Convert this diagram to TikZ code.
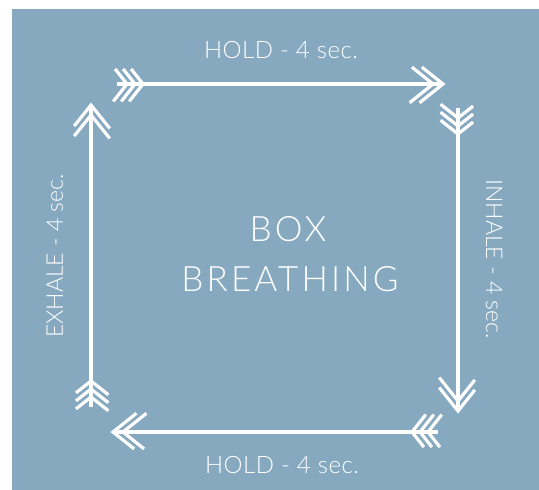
\documentclass[tikz,border=0pt]{standalone}
\usepackage{fontspec}
\setmainfont{Lato Light}
\newfontfamily\titlefont[LetterSpace=9]{Lato Light}
\newfontfamily\lblfont[LetterSpace=2]{Lato Light}
\usetikzlibrary{decorations.markings}
\definecolor{bgblue}{RGB}{134,169,192}
\tikzset{
  boxarrow/.style={draw=white, line width=3.4pt, line join=miter,
    shorten <=5pt, shorten >=2pt,
    postaction={decorate, decoration={markings,
      mark=at position 0 with {
        \foreach \a in {0,8,16}
          \draw[white, line width=3.2pt, line join=miter] (\a,-19) -- (\a+15,0) -- (\a,19);
      },
      mark=at position 1 with {
        \foreach \a in {0,-10}
          \draw[white, line width=3.2pt, line join=miter] (\a-25,-20) -- (\a,0) -- (\a-25,20);
      }}}},
  lbl/.style={text=white, font=\lblfont\fontsize{24}{28}\selectfont, inner sep=0pt},
  sidelbl/.style={text=white, font=\fontsize{23}{27}\selectfont, inner sep=0pt},
  title/.style={text=white, font=\titlefont\fontsize{35}{40}\selectfont, inner sep=0pt}
}
\begin{document}
\begin{tikzpicture}[x=1pt,y=-1pt]
\useasboundingbox (0,0) rectangle (539,490);
\fill[white] (0,0) rectangle (539,490);
\fill[bgblue] (12,9) rectangle (539,490);
% corner coordinates
\coordinate (topT) at (112,84);
\coordinate (topH) at (443,84);
\coordinate (rgtT) at (458,103);
\coordinate (rgtH) at (458,411);
\coordinate (botT) at (443,432);
\coordinate (botH) at (113,432);
\coordinate (lftT) at (91,412);
\coordinate (lftH) at (91,105);
\draw[boxarrow] (topT) -- (topH);
\draw[boxarrow] (rgtT) -- (rgtH);
\draw[boxarrow] (botT) -- (botH);
\draw[boxarrow] (lftT) -- (lftH);
% labels
\node[lbl, anchor=base] (holdtop) at (281,58) {HOLD - 4 sec.};
\node[lbl, anchor=base] (holdbot) at (282,473) {HOLD - 4 sec.};
\node[sidelbl, anchor=base, rotate=90] (exhale) at (63,256) {EXHALE - 4 sec.};
\node[sidelbl, anchor=base, rotate=-90] (inhale) at (486,259) {INHALE - 4 sec.};
\node[title, anchor=base] (box) at (288,241) {BOX};
\node[title, anchor=base] (breath) at (290,291) {BREATHING};
\end{tikzpicture}
\end{document}
